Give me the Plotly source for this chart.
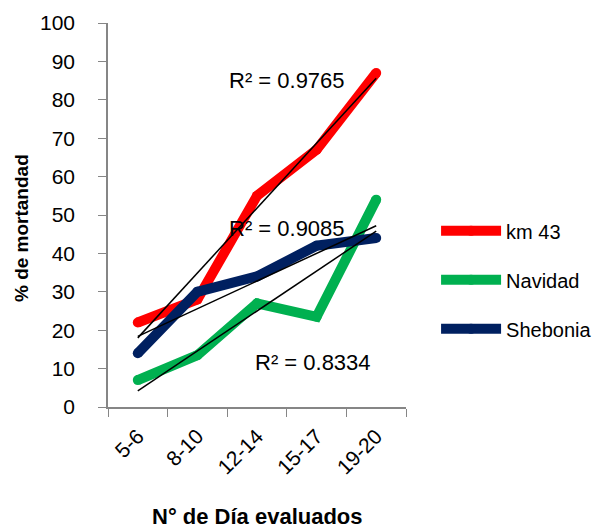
import numpy as np
import plotly.graph_objects as go

categories = ["5-6", "8-10", "12-14", "15-17", "19-20"]
km43 = [22, 28, 55, 67, 87]
navidad = [7, 13.5, 27, 23.5, 54]
shebonia = [14, 30, 34, 42, 44]
series_names = ["km 43", "Navidad", "Shebonia"]
series_colors = ["#FF0000", "#00B050", "#002060"]
r2_labels = ["R² = 0.9765", "R² = 0.8334", "R² = 0.9085"]
y_ticks = list(range(0, 101, 10))

FONT = "Liberation Sans, Arial, sans-serif"

fig = go.Figure()
series = [km43, navidad, shebonia]
for i, (name, vals, col) in enumerate(zip(series_names, series, series_colors)):
    fig.add_trace(go.Scatter(
        x=categories, y=vals, mode="lines+markers", name=name,
        line=dict(color=col, width=10),
        marker=dict(color=col, size=10, line=dict(width=0)),
        legendgroup=name, showlegend=True,
    ))

# linear trendlines
idx = np.arange(len(categories))
for vals in series:
    m, b = np.polyfit(idx, vals, 1)
    fig.add_trace(go.Scatter(
        x=[categories[0], categories[-1]], y=[m * idx[0] + b, m * idx[-1] + b],
        mode="lines", line=dict(color="black", width=1.5), showlegend=False,
        hoverinfo="skip",
    ))

# R² labels
label_pos = [(2.5, 85), (2.94, 11.5), (2.5, 46.5)]
for txt, (xx, yy) in zip(r2_labels, label_pos):
    fig.add_annotation(x=xx, y=yy, xref="x", yref="y", text=txt, showarrow=False,
                       xanchor="center", font=dict(family=FONT, size=22, color="black"))

# axis titles
fig.add_annotation(x=-0.292, y=46.6, xref="paper", yref="y", text="<b>% de mortandad</b>",
                   textangle=-90, showarrow=False, xanchor="center", yanchor="middle",
                   font=dict(family=FONT, size=19, color="black"))
fig.add_annotation(x=0.5, y=-0.286, xref="paper", yref="paper", text="<b>N° de Día evaluados</b>",
                   showarrow=False, xanchor="center", yanchor="middle",
                   font=dict(family=FONT, size=22, color="black"))

fig.update_layout(
    width=599, height=528,
    margin=dict(l=108, r=193, t=23, b=121),
    paper_bgcolor="white", plot_bgcolor="white",
    font=dict(family=FONT, color="black"),
    legend=dict(xref="container", yref="container", x=0.728, y=0.47,
                xanchor="left", yanchor="middle",
                font=dict(family=FONT, size=20, color="black"),
                tracegroupgap=20, itemwidth=60),
)
fig.update_xaxes(
    type="category", tickson="boundaries", ticks="outside", ticklen=8,
    tickcolor="#868686", showline=True, linecolor="#868686", linewidth=1.5,
    showgrid=False, tickangle=-45, tickfont=dict(family=FONT, size=21),
    ticklabelstandoff=7, range=[-0.5, 4.5], automargin=False,
)
fig.update_yaxes(
    range=[0, 100], tickvals=y_ticks, ticks="outside", ticklen=8,
    tickcolor="#868686", showline=True, linecolor="#868686", linewidth=1.5,
    showgrid=False, zeroline=False, tickfont=dict(family=FONT, size=21),
    ticklabelstandoff=19, automargin=False,
)

fig.write_html("out.html", config={"displayModeBar": False},
               post_script="document.body.style.margin='0';")
